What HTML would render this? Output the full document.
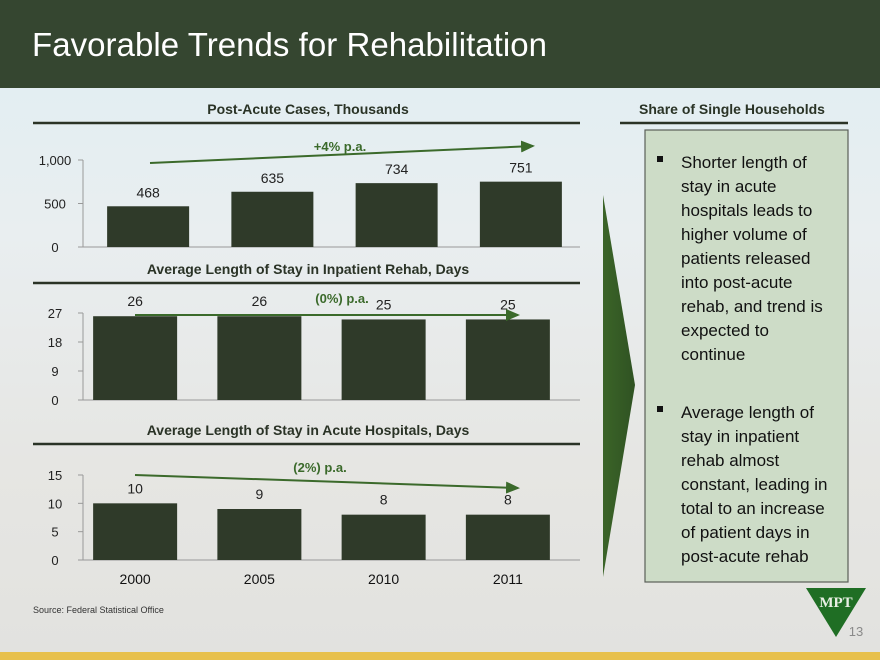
<!DOCTYPE html>
<html><head><meta charset="utf-8"><style>
body{margin:0;width:880px;height:660px;overflow:hidden;font-family:"Liberation Sans",sans-serif}
svg{display:block}
</style></head><body>
<svg id="s" width="880" height="660" viewBox="0 0 880 660" xmlns="http://www.w3.org/2000/svg" font-family="Liberation Sans, sans-serif">
<defs>
<linearGradient id="bg" x1="0" y1="0" x2="0" y2="1">
<stop offset="0" stop-color="#dfeef3"/><stop offset="0.35" stop-color="#e9eef0"/><stop offset="0.7" stop-color="#e6e6e3"/><stop offset="1" stop-color="#e2e2df"/></linearGradient>
<linearGradient id="tri" x1="0" y1="0" x2="1" y2="0"><stop offset="0" stop-color="#3b6428"/><stop offset="1" stop-color="#2f5222"/></linearGradient>
<marker id="ah" markerWidth="8" markerHeight="8" refX="6" refY="3" orient="auto"><path d="M0,0 L7,3 L0,6 z" fill="#3b6a2b"/></marker>
</defs>
<rect width="880" height="660" fill="url(#bg)"/>
<rect width="880" height="88" fill="#354630"/>
<text x="32" y="56" font-size="33" fill="#fff" textLength="515">Favorable Trends for Rehabilitation</text>
<g id="charts"></g>
<text x="732" y="114" font-size="14" font-weight="bold" text-anchor="middle" fill="#2a3326">Share of Single Households</text>
<line x1="620" y1="123" x2="848" y2="123" stroke="#2a3326" stroke-width="2.5"/>
<polygon points="603,195 635,385 603,577" fill="url(#tri)"/>
<rect x="645" y="130" width="203" height="452" fill="#cddcc7" stroke="#5a5f58" stroke-width="1.2"/>
<g font-size="17" fill="#111">
<rect x="657" y="156" width="6" height="6" fill="#111"/>
<text x="681" y="168">Shorter length of</text><text x="681" y="192">stay in acute</text><text x="681" y="216">hospitals leads to</text><text x="681" y="240">higher volume of</text><text x="681" y="264">patients released</text><text x="681" y="288">into post-acute</text><text x="681" y="312">rehab, and trend is</text><text x="681" y="336">expected to</text><text x="681" y="360">continue</text>
<rect x="657" y="406" width="6" height="6" fill="#111"/>
<text x="681" y="418">Average length of</text><text x="681" y="442">stay in inpatient</text><text x="681" y="466">rehab almost</text><text x="681" y="490">constant, leading in</text><text x="681" y="514">total to an increase</text><text x="681" y="538">of patient days in</text><text x="681" y="562">post-acute rehab</text>
</g>
<text x="33" y="613" font-size="9" fill="#333">Source: Federal Statistical Office</text>
<g>
<polygon points="806,588 866,588 836,637" fill="#1f6e24"/>
<text x="836" y="607" font-size="15" font-family="Liberation Serif, serif" font-weight="bold" fill="#e8efe4" text-anchor="middle">MPT</text>
</g>
<text x="856" y="636" font-size="13" fill="#8a8a8a" text-anchor="middle">13</text>
<rect x="0" y="652" width="880" height="8" fill="#e7c04c"/>
</svg>
<script>
const categories=["2000","2005","2010","2011"];
const casesValues=[468,635,734,751];
const casesTicks=[0,500,1000];
const casesTickLabels=["0","500","1,000"];
const rehabValues=[26,26,25,25];
const rehabTicks=[0,9,18,27];
const acuteValues=[10,9,8,8];
const acuteTicks=[0,5,10,15];
const acuteMax=[15];
const NS="http://www.w3.org/2000/svg";
const g=document.getElementById('charts');
function el(t,a,p){const e=document.createElementNS(NS,t);for(const k in a)e.setAttribute(k,a[k]);(p||g).appendChild(e);return e;}
function chart(cfg){
  const grp=el('g',{});
  
  
  const y=v=>cfg.y0-(v-cfg.min)/(cfg.max-cfg.min)*(cfg.y0-cfg.y1);
  const bandW=(580-cfg.x0)/categories.length;
  const xc=i=>cfg.x0+bandW*(i+0.5)+cfg.shift;
  const t=el('text',{x:308,y:cfg.titleY,'font-size':14,'font-weight':'bold','text-anchor':'middle',fill:'#2a3326'},grp);t.textContent=cfg.title;
  
  
  el('line',{x1:33,y1:cfg.titleY+9,x2:580,y2:cfg.titleY+9,stroke:'#2a3326','stroke-width':2.5},grp);
  el('line',{x1:cfg.x0,y1:y(cfg.max),x2:cfg.x0,y2:cfg.y0,stroke:'#999','stroke-width':1},grp);
  el('line',{x1:cfg.x0,y1:cfg.y0,x2:580,y2:cfg.y0,stroke:'#999','stroke-width':1},grp);
  cfg.ticks.forEach((v,i)=>{
    el('line',{x1:cfg.x0-5,y1:y(v),x2:cfg.x0,y2:y(v),stroke:'#999'},grp);
    const tt=el('text',{x:cfg.x0-28,y:y(v)+5,'font-size':13,'text-anchor':'middle',fill:'#222'},grp);
    tt.textContent=cfg.tickLabels?cfg.tickLabels[i]:String(v);
    
    
  });
  cfg.values.forEach((v,i)=>{
    const r=el('rect',{x:xc(i)-cfg.bw/2,y:y(v),width:cfg.bw,height:cfg.y0-y(v),fill:'#2f3a29'},grp);
    
    
    const lt=el('text',{x:xc(i)-cfg.lblShift,y:y(v)-cfg.lblGap,'font-size':14,'text-anchor':'middle',fill:'#222'},grp);
    lt.textContent=String(v);
    
    
  });
  el('line',{x1:cfg.ar[0],y1:cfg.ar[1],x2:cfg.ar[2],y2:cfg.ar[3],stroke:'#3b6a2b','stroke-width':2,'marker-end':'url(#ah)'},grp);
  const at=el('text',{x:cfg.atx,y:cfg.aty,'font-size':13,'font-weight':'bold','text-anchor':'middle',fill:'#3b6a2b'},grp);
  at.textContent=cfg.arrowText;
  
  
  if(cfg.xlabels){categories.forEach((c,i)=>{
    const xt=el('text',{x:xc(i)+cfg.xlShift,y:584,'font-size':14,'text-anchor':'middle',fill:'#111'},grp);
    xt.textContent=c;
    
    
  });}
}
chart({name:'post-acute-cases-chart',title:'Post-Acute Cases, Thousands',titleY:114,values:casesValues,ticks:casesTicks,tickLabels:casesTickLabels,min:0,max:1000,y0:247,y1:160,x0:83,shift:3,bw:82,lblShift:0,lblGap:9,ar:[150,163,533,146],arrowText:'+4% p.a.',atx:340,aty:151});
chart({name:'inpatient-rehab-stay-chart',title:'Average Length of Stay in Inpatient Rehab, Days',titleY:274,values:rehabValues,ticks:rehabTicks,min:0,max:27,y0:400,y1:313,x0:83,shift:-10,bw:84,lblShift:0,lblGap:10,ar:[135,315,518,315],arrowText:'(0%) p.a.',atx:342,aty:303});
chart({name:'acute-hospital-stay-chart',title:'Average Length of Stay in Acute Hospitals, Days',titleY:435,values:acuteValues,ticks:acuteTicks,min:0,max:acuteMax[0],y0:560,y1:475,x0:83,shift:-10,bw:84,lblShift:0,lblGap:10,ar:[135,475,518,488],arrowText:'(2%) p.a.',atx:320,aty:472,xlabels:true,xlShift:0});
</script>
</body></html>
